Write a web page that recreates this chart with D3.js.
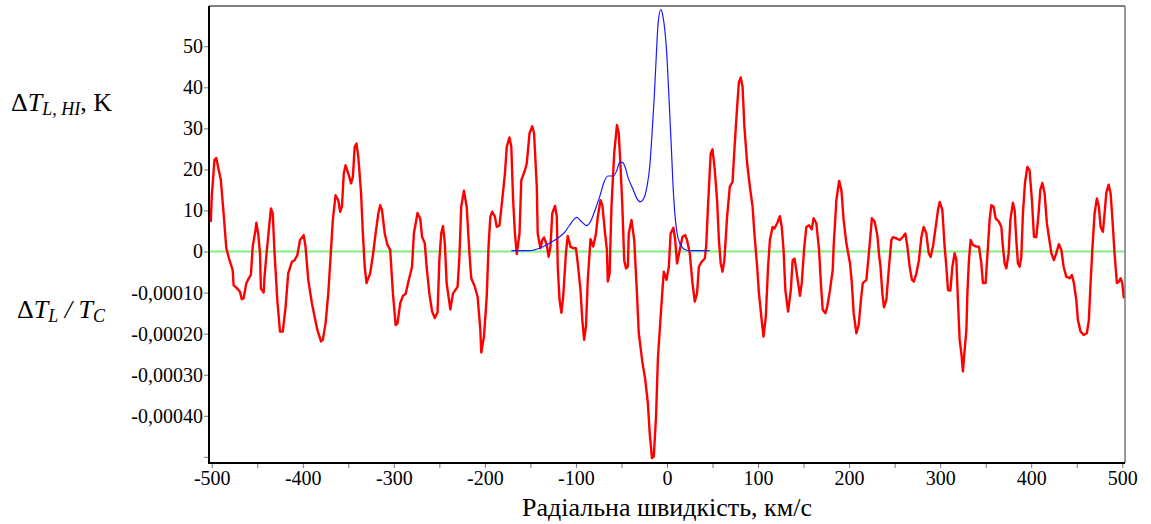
<!DOCTYPE html>
<html><head><meta charset="utf-8">
<script src="https://cdn.jsdelivr.net/npm/d3@7"></script>
<style>
html,body{margin:0;padding:0;background:#fff;}
text{font-family:"Liberation Serif","Times New Roman",serif;fill:#000;}
</style></head>
<body>
<svg id="chart" width="1151" height="524"></svg>
<script>
// Radial velocity, km/s, for the red curve (ΔT_L / T_C)
const redV = [-501,-500,-497,-495,-493,-490,-487,-484,-481,-477,-476,-472,-469,-467,-465,-462,-460,-457,-455,-452,-451,-449,-447,-446,-443,-442,-440,-438,-435,-433,-431,-428,-425,-422,-419,-416,-412,-409,-406,-403,-399,-397,-394,-390,-387,-384,-380,-378,-375,-372,-369,-367,-364,-361,-359,-357,-355,-353,-350,-347,-345,-343,-341,-339,-336,-334,-332,-330,-326,-323,-320,-317,-315,-313,-310,-307,-304,-301,-298,-296,-293,-290,-287,-284,-280,-278,-274,-271,-269,-266,-264,-261,-258,-255,-252,-250,-248,-246,-244,-242,-238,-235,-230,-228,-226,-223,-220,-217,-215,-211,-208,-205,-204,-201,-198,-196,-194,-192,-189,-187,-184,-181,-178,-176,-173,-171,-169,-167,-165,-162,-160,-156,-154,-151,-148,-146,-143,-142,-139,-137,-135,-132,-130,-128,-126,-123,-121,-120,-118,-116,-114,-111,-109,-106,-103,-100,-98,-95,-93,-91,-89,-87,-84,-81,-78,-76,-73,-71,-68,-66,-65,-63,-61,-58,-55,-53,-51,-49,-47,-45,-43,-42,-39,-36,-33,-31,-27,-24,-21,-19,-16.5,-14.5,-12,-10,-7,-5,-3.5,-0.5,2,4,7,9,11,14,17,20,22,25,28,30.5,33,35,38,41.5,43,45,48,50,52.5,55,57,59,61,63,66,69,72,74,77,79,81,83,85,88,91,94,96,99,101,104,106,108.5,111,113,116,118,121,124,126,128,130,133,136,138,140,142,146,148,150.5,153,156,159,161,164,167,169,171,174,176,179,182,183,186,189,191.5,194,197,201,203,205,208,210.5,213,215,219,221,223,225,228,231,233,234.5,236.5,238.3,240.9,243.8,246.4,248.2,251.9,255.5,259.2,261.8,264,266.5,269,271.2,273.9,276.7,279.4,281.9,284.8,287.4,289.6,292.1,295.1,297.6,299.5,302.4,304.9,306.8,308.6,311.2,313.4,315.9,317.8,319.5,321.4,323.3,325,326.9,328.8,329.9,331.6,333.5,336,339.7,342.6,345.2,347,349.9,352.5,354.3,356.2,358.7,360.9,364.5,367.2,368.9,370.8,372.7,375.2,377.1,379.9,381.8,383.6,385.4,387.3,389.1,390.9,393.1,395.7,398.2,400.8,403,405.6,408.1,410,412.2,414.7,417.2,419.4,422.1,424.9,427.6,430.4,433.1,435.6,438.5,442.2,444.7,446.9,449.5,451.3,454.2,457.5,461.1,463.3,465.2,467.1,469.6,472.1,474.3,476.2,478.7,480.6,482.4,485,487.2,489,491.5,494.1,496.3,498.1,500,501.8];
// ΔT_L / T_C, in units of 1e-5
const redRatioE5 = [7.2,13.3,22.3,22.8,20.6,17.4,9.4,0.8,-1.7,-4.5,-8.2,-9,-9.8,-11.6,-11.4,-7.7,-6.8,-5.7,1.2,5.2,7,4.4,-0.4,-9,-10,-6.1,-0.9,3.6,10.5,9.3,-0.4,-11.8,-19.5,-19.5,-13.8,-5.3,-2.5,-2.1,-0.9,2.8,4,1.2,-6.9,-12.6,-15.9,-19.1,-21.9,-21.5,-17.5,-10.2,0.4,7.7,13.7,12.5,9.7,10.9,19,21,19,16.6,18.2,25.5,26.3,23,14.2,4.4,-3.7,-7.7,-5.3,-0.9,4.4,9.3,11.3,10.1,4.4,1.6,0.4,-10.2,-17.9,-17.5,-12.6,-10.8,-10.3,-7.3,-3.7,4.4,9.4,8,3.6,2,-3.7,-10.2,-14.6,-16.2,-14.8,-2.1,4.4,6.2,2,-7.7,-14.1,-10.2,-8.6,-1.3,10.9,14.8,10.9,-0.4,-6.5,-8.6,-11,-19.1,-24.6,-20.7,-11,1.2,8.5,9.7,8.5,6,6.4,12.5,19,25.5,27.8,25.5,12.5,4.4,-0.6,4.4,17.4,19.8,21.5,28.8,30.5,28.8,15.8,4.4,0.8,2.8,3.4,1.6,-1.3,1.2,9.3,11.1,8.5,-3.7,-11.8,-14.9,-11,-0.4,3.8,1.2,0.8,0.8,-2.9,-9.4,-16.7,-21.5,-18.3,-6.9,3,1.2,4.4,8.5,12.5,11.3,4.4,0.4,-7.3,-5.3,10.9,23.9,30.8,28.8,20.6,10.9,-2.1,-4.1,-3.7,4.4,7.7,2.8,-10.2,-19.9,-27,-31,-37,-44.2,-50.3,-49.9,-40,-26,-15.9,-9.4,-4.9,-6.9,-3.7,4.4,5.8,2.8,-2.9,0.4,3.6,4,2.8,-0.4,-7.7,-12.2,-10.2,-3.7,-2.5,-1.7,1.2,10.9,23.9,24.9,19.8,12.5,2.8,-2.9,-4.9,-2.1,8.5,15.8,17,24.7,35.2,41.3,42.4,40.1,30.4,21.5,15.8,10.9,4.4,-3.7,-10.2,-16.7,-20.7,-15.9,-3.7,2.8,6,5.6,6.9,8.6,6,0.4,-9.4,-14.6,-9.4,-2.1,-1.7,-4.5,-10.8,-7.7,0.4,6,6.4,5.4,8.1,6.9,0.4,-7.7,-14.2,-15,-13.4,-9.4,-4.5,1.2,12.5,17.2,15,7.7,2,-2.9,-7.7,-15,-19.9,-17.9,-11.8,-7.7,-6.9,-2.1,2.8,8.1,7.3,4,-1,-3.7,-10.2,-13.6,-11.8,-3.7,2.8,3.5,3.2,2.8,3.6,4.4,1.2,-3.7,-6.9,-7.3,-5.3,-2.1,3.6,6,4.4,-0.4,-1.3,1.2,6,10.1,12.1,10.1,1.2,-3.7,-9.4,-9.5,-3.7,-0.4,-2.1,-11.8,-21.5,-24.8,-29.2,-24,-19.1,-10.2,-2.1,2.8,1.6,1.2,1.2,-2.9,-7.7,-7.7,1.2,7.7,11.3,10.9,8.1,7.3,6,1.2,-2.9,-4.1,-0.4,7.7,11.9,10.1,2.8,-2.9,-3.7,-1.3,9.3,16.6,20.6,19.8,12.5,3.6,3.5,9.3,15,16.7,14.2,6.9,3.6,-0.4,-2.1,-0.4,1.8,0.4,-3.7,-6.1,-6.5,-5.7,-7.7,-11.8,-16.7,-19.5,-20.3,-19.9,-16.7,-7.7,0.4,9.3,12.9,10.9,6,4.8,9.3,14.2,16.3,14.2,8.5,-0.4,-7.7,-7.3,-6.5,-7.7,-11.4];

// HI emission profile ΔT_L,HI (K)
const blueV = [-171,-151,-140,-129,-118,-112,-107,-101,-99,-94,-88,-84,-79,-74,-69,-65,-59,-55,-52,-49,-46,-43,-37,-33,-29,-25.5,-22,-19,-16.4,-14.2,-11.8,-9.8,-6.8,-4.3,-0.5,2.3,4.9,6.7,8.6,11.1,14.1,19.5,25,47];
const blueK = [0.2,0.2,0.8,2,3.6,4.8,6.4,8.1,8.3,7.3,6.3,7.3,10.1,13.3,17,18.4,18.4,19.8,21.7,21.7,20.6,18.2,15,12.9,12.1,12.9,15.8,20.6,28.8,36.9,47.5,55.5,58.9,57.1,49,36.9,24.7,15.8,9.3,4.4,2,0.5,0.2,0.2];

const xTicks = [-500,-450,-400,-350,-300,-250,-200,-150,-100,-50,0,50,100,150,200,250,300,350,400,450,500];
const kTicks = [0,10,20,30,40,50];
const ratioTicks = [-0.0001,-0.0002,-0.0003,-0.0004,-0.0005];

const svg = d3.select("#chart");
svg.append("rect").attr("width",1151).attr("height",524).attr("fill","#fff");

const L = 209, R = 1125, T = 6, B = 463;
const x = d3.scaleLinear().domain([-503, 503]).range([L, R]);
const yK = d3.scaleLinear().domain([-51.5, 59.8]).range([B, T]);
const yR = d3.scaleLinear().domain([-0.000515, 0.000598]).range([B, T]);

// zero line
svg.append("line").attr("x1",L).attr("x2",R).attr("y1",yK(0)).attr("y2",yK(0))
  .attr("stroke","#80f080").attr("stroke-width",2);

// red curve
const redData = redV.map((v,i)=>({v, r: redRatioE5[i]*1e-5}));
svg.append("path").datum(redData)
  .attr("d", d3.line().x(d=>x(d.v)).y(d=>yR(d.r)))
  .attr("fill","none").attr("stroke","#ff0000").attr("stroke-width",2.4).attr("stroke-linejoin","round");

// blue curve
const blueData = blueV.map((v,i)=>({v, k: blueK[i]}));
svg.append("path").datum(blueData)
  .attr("d", d3.line().curve(d3.curveMonotoneX).x(d=>x(d.v)).y(d=>yK(d.k)))
  .attr("fill","none").attr("stroke","#1a1aff").attr("stroke-width",1.2);

// frame
svg.append("line").attr("x1",L).attr("x2",R).attr("y1",T).attr("y2",T).attr("stroke","#555").attr("stroke-width",1.5);
svg.append("line").attr("x1",R).attr("x2",R).attr("y1",T).attr("y2",B).attr("stroke","#777").attr("stroke-width",1.5);

// axes
const serif = "'Liberation Serif','Times New Roman',serif";
const fontSize = "20px";
const gx = svg.append("g").attr("transform",`translate(0,${B})`)
  .call(d3.axisBottom(x).tickValues(xTicks).tickSize(5).tickPadding(3)
    .tickFormat(d => d % 100 === 0 ? String(d) : ""));
const gk = svg.append("g").attr("transform",`translate(${L},0)`)
  .call(d3.axisLeft(yK).tickValues(kTicks).tickSize(5).tickPadding(1).tickFormat(d=>String(d)));
const gr = svg.append("g").attr("transform",`translate(${L},0)`)
  .call(d3.axisLeft(yR).tickValues(ratioTicks).tickSize(5).tickPadding(1)
    .tickFormat(d => d === -0.0005 ? "" : "-" + Math.abs(d).toFixed(5).replace(".", ",")));
[gx,gk,gr].forEach(g=>{
  g.attr("font-family", serif).attr("font-size", fontSize);
  g.select(".domain").remove();
  g.selectAll(".tick line").attr("stroke","#777").attr("stroke-width",1);
  g.selectAll(".tick text").attr("font-family", serif).style("font-family", serif).style("font-size",fontSize).attr("fill","#000");
});
// left & bottom axis lines
svg.append("line").attr("x1",L).attr("x2",L).attr("y1",T).attr("y2",B+1).attr("stroke","#000").attr("stroke-width",2);
svg.append("line").attr("x1",L).attr("x2",R).attr("y1",B).attr("y2",B).attr("stroke","#000").attr("stroke-width",2);

// axis titles
svg.append("text").attr("x",667).attr("y",516).attr("text-anchor","middle")
  .style("font-size","26px").text("Радіальна швидкість, км/с");

const t1 = svg.append("text").attr("x",11).attr("y",111).style("font-size","26px");
t1.append("tspan").text("Δ");
t1.append("tspan").style("font-style","italic").text("T");
t1.append("tspan").style("font-style","italic").style("font-size","18px").attr("dy",4).text("L, HI");
t1.append("tspan").attr("dy",-4).text(", K");

const t2 = svg.append("text").attr("x",17).attr("y",318).style("font-size","26px");
t2.append("tspan").text("Δ");
t2.append("tspan").style("font-style","italic").text("T");
t2.append("tspan").style("font-style","italic").style("font-size","18px").attr("dy",4).text("L");
t2.append("tspan").attr("dy",-4).style("font-style","italic").text(" / T");
t2.append("tspan").style("font-style","italic").style("font-size","18px").attr("dy",4).text("C");
</script>
</body></html>
